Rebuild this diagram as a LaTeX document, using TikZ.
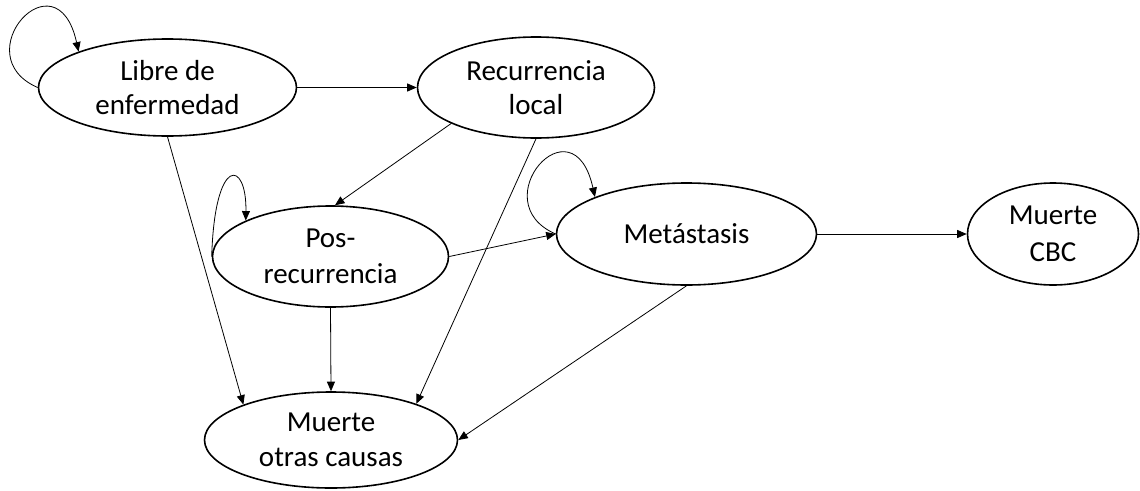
\documentclass[tikz,border=0pt]{standalone}
\usepackage{fontspec}
\setmainfont{Carlito}
\usetikzlibrary{shapes.geometric,arrows.meta}
\begin{document}
\begin{tikzpicture}[x=1pt,y=-1pt,
  state/.style={ellipse,draw,line width=1.6pt,inner sep=0pt,align=center,
    font=\fontsize{29}{34.5}\selectfont},
  link/.style={line width=0.8pt,-{Triangle[length=9.5pt,width=8pt]}}]
\useasboundingbox (0,0) rectangle (1140,490);

% states
\node[state,minimum width=258pt,minimum height=97pt]  (lib)   at (167.5,87.5) {Libre de\\enfermedad};
\node[state,minimum width=237pt,minimum height=101pt] (rec)   at (536,87.5)   {Recurrencia\\local};
\node[state,minimum width=236pt,minimum height=101pt] (pos)   at (330.5,256.5){Pos-\\[1.5pt]recurrencia};
\node[state,minimum width=260pt,minimum height=102pt] (met)   at (686.5,234)  {Metástasis};
\node[state,minimum width=171pt,minimum height=102pt] (cbc)   at (1053,234)   {Muerte\\[2pt]CBC};
\node[state,minimum width=253pt,minimum height=96pt]  (otras) at (331,440)    {Muerte\\otras causas};

% transitions
\draw[link] (lib.east)  -- (rec.west);
\draw[link] (lib.south) -- (otras.158);
\draw[link] (rec.203)   -- (pos.85);
\draw[link] (rec.south) -- (otras.23);
\draw[link] (pos.east)  -- (met.west);
\draw[link] (pos.south) -- (otras.north);
\draw[link] (met.east)  -- (cbc.west);
\draw[link] (met.south) -- (otras.east);

% self loops
\draw[link] (lib.west) .. controls +(-74,-32) and +(-22,-100) .. (lib.158);
\draw[link] (pos.west) .. controls +(3,-102) and +(1,-61) .. (pos.157);
\draw[link] (met.west) .. controls +(-74,-32) and +(-22,-100) .. (met.158);
\end{tikzpicture}
\end{document}
